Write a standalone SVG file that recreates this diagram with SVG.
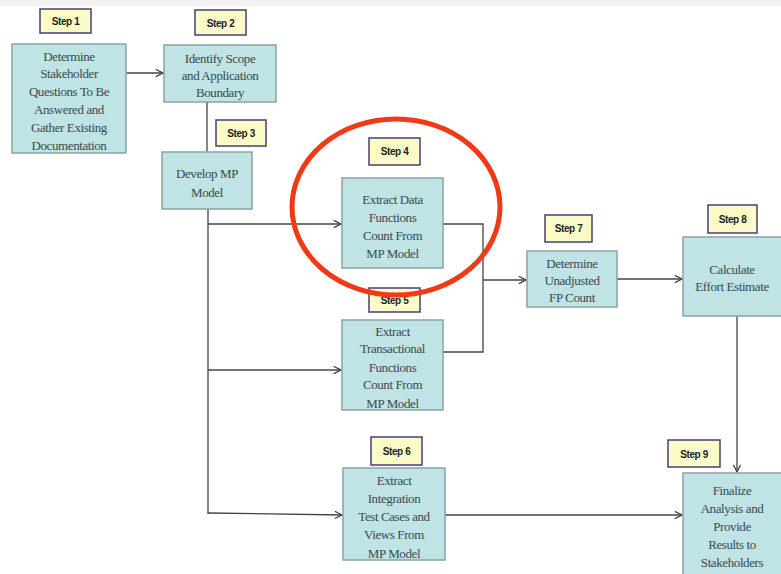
<svg xmlns="http://www.w3.org/2000/svg" width="781" height="574" viewBox="0 0 781 574">
<defs>
<marker id="arr" viewBox="0 0 10 10" refX="9" refY="5" markerWidth="9" markerHeight="9" markerUnits="userSpaceOnUse" orient="auto">
<path d="M1,1 L9,5 L1,9" fill="none" stroke="#444" stroke-width="1.4"/>
</marker>
<style>
.box{fill:#c0e3e6;stroke:#8aa3a6;stroke-width:1.5}
.lbl{fill:#fbfbc8;stroke:#4a3c7a;stroke-width:1.5}
.t{font-size:13px;fill:#3a4a4c;text-anchor:middle;letter-spacing:-0.4px}
.s{font-size:10px;font-weight:bold;fill:#222;text-anchor:middle;letter-spacing:-0.4px}
.c{fill:none;stroke:#444;stroke-width:1.3}
</style>
</defs>
<rect width="781" height="574" fill="#ffffff"/>
<rect width="781" height="6" fill="#f2f2f2"/>

<g id="connectors">
<path class="c" d="M126,73 H163" marker-end="url(#arr)"/>
<path class="c" d="M207,102 V152"/>
<path class="c" d="M208,209 V514"/>
<path class="c" d="M208,224 H341" marker-end="url(#arr)"/>
<path class="c" d="M208,370 H341" marker-end="url(#arr)"/>
<path class="c" d="M208,513 L342,515" marker-end="url(#arr)"/>
<path class="c" d="M443,224 H483 V352 H443"/>
<path class="c" d="M483,280 H526" marker-end="url(#arr)"/>
<path class="c" d="M617,279 H682" marker-end="url(#arr)"/>
<path class="c" d="M737,316 V472" marker-end="url(#arr)"/>
<path class="c" d="M445,515 H682" marker-end="url(#arr)"/>
</g>

<g font-family="'Liberation Serif', 'Times New Roman', 'DejaVu Serif', serif">
<g id="step1">
<rect class="lbl" x="40" y="9" width="51" height="24"/>
<text class="s" font-family="'Liberation Sans', Arial, sans-serif" x="65.5" y="25">Step 1</text>
<rect class="box" x="12" y="44" width="114" height="109"/>
<text class="t" x="69" y="61">Determine</text>
<text class="t" x="69" y="78">Stakeholder</text>
<text class="t" x="69" y="96">Questions To Be</text>
<text class="t" x="69" y="114">Answered and</text>
<text class="t" x="69" y="132">Gather Existing</text>
<text class="t" x="69" y="150">Documentation</text>
</g>

<g id="step2">
<rect class="lbl" x="195" y="10" width="51" height="25"/>
<text class="s" font-family="'Liberation Sans', Arial, sans-serif" x="220.5" y="27">Step 2</text>
<rect class="box" x="164" y="45" width="112" height="57"/>
<text class="t" x="220" y="63">Identify Scope</text>
<text class="t" x="220" y="80">and Application</text>
<text class="t" x="220" y="97">Boundary</text>
</g>

<g id="step3">
<rect class="lbl" x="216" y="120" width="50" height="26"/>
<text class="s" font-family="'Liberation Sans', Arial, sans-serif" x="241" y="137">Step 3</text>
<rect class="box" x="162" y="152" width="90" height="57"/>
<text class="t" x="207" y="178">Develop MP</text>
<text class="t" x="207" y="197">Model</text>
</g>

<g id="step4">
<rect class="lbl" x="369" y="138" width="51" height="27"/>
<text class="s" font-family="'Liberation Sans', Arial, sans-serif" x="394.5" y="155">Step 4</text>
<rect class="box" x="342" y="178" width="101" height="90"/>
<text class="t" x="392.5" y="204">Extract Data</text>
<text class="t" x="392.5" y="222">Functions</text>
<text class="t" x="392.5" y="240">Count From</text>
<text class="t" x="392.5" y="258">MP Model</text>
</g>

<g id="step5">
<rect class="lbl" x="369" y="288" width="51" height="24"/>
<text class="s" font-family="'Liberation Sans', Arial, sans-serif" x="394.5" y="304">Step 5</text>
<rect class="box" x="342" y="320" width="101" height="90"/>
<text class="t" x="392.5" y="336">Extract</text>
<text class="t" x="392.5" y="353">Transactional</text>
<text class="t" x="392.5" y="372">Functions</text>
<text class="t" x="392.5" y="389">Count From</text>
<text class="t" x="392.5" y="408">MP Model</text>
</g>

<g id="highlight">
<ellipse cx="396" cy="207" rx="104" ry="88" fill="none" stroke="#f03a17" stroke-width="5"/>
</g>

<g id="step6">
<rect class="lbl" x="371" y="437" width="51" height="28"/>
<text class="s" font-family="'Liberation Sans', Arial, sans-serif" x="396.5" y="455">Step 6</text>
<rect class="box" x="343" y="468" width="102" height="92"/>
<text class="t" x="394" y="485">Extract</text>
<text class="t" x="394" y="503">Integration</text>
<text class="t" x="394" y="521">Test Cases and</text>
<text class="t" x="394" y="539">Views From</text>
<text class="t" x="394" y="558">MP Model</text>
</g>

<g id="step7">
<rect class="lbl" x="545" y="215" width="47" height="27"/>
<text class="s" font-family="'Liberation Sans', Arial, sans-serif" x="568.5" y="232">Step 7</text>
<rect class="box" x="527" y="251" width="90" height="56"/>
<text class="t" x="572" y="268">Determine</text>
<text class="t" x="572" y="285">Unadjusted</text>
<text class="t" x="572" y="302">FP Count</text>
</g>

<g id="step8">
<rect class="lbl" x="708" y="205" width="49" height="28"/>
<text class="s" font-family="'Liberation Sans', Arial, sans-serif" x="732.5" y="223">Step 8</text>
<rect class="box" x="683" y="237" width="100" height="79"/>
<text class="t" x="732" y="274">Calculate</text>
<text class="t" x="732" y="291">Effort Estimate</text>
</g>

<g id="step9">
<rect class="lbl" x="668" y="440" width="52" height="27"/>
<text class="s" font-family="'Liberation Sans', Arial, sans-serif" x="694" y="458">Step 9</text>
<rect class="box" x="683" y="473" width="100" height="102"/>
<text class="t" x="732" y="495">Finalize</text>
<text class="t" x="732" y="513">Analysis and</text>
<text class="t" x="732" y="531">Provide</text>
<text class="t" x="732" y="549">Results to</text>
<text class="t" x="732" y="567">Stakeholders</text>
</g>
</g>
</svg>
